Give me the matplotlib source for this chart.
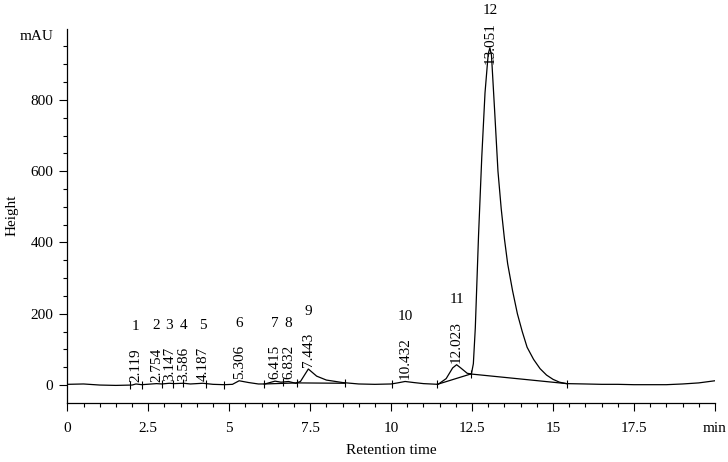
import numpy as np
import matplotlib
matplotlib.use("Agg")
import matplotlib.pyplot as plt

plt.rcParams['font.family'] = ['Liberation Serif', 'DejaVu Serif']

# chromatogram trace (min, mAU)
time = [0.0, 0.5, 1.0, 1.5, 2.0, 2.119, 2.3, 2.754, 2.92, 3.147, 3.3, 3.586,
        3.8, 4.187, 4.5, 4.85, 5.1, 5.306, 5.6, 5.9, 6.1, 6.415, 6.6, 6.832,
        7.05, 7.2, 7.443, 7.7, 8.0, 8.5, 9.0, 9.5, 10.0, 10.2, 10.432, 10.7,
        11.0, 11.45, 11.7, 11.9, 12.023, 12.15, 12.35, 12.48, 12.54, 12.6,
        12.7, 12.8, 12.9, 13.0, 13.051, 13.1, 13.2, 13.3, 13.4, 13.5, 13.6,
        13.75, 13.9, 14.05, 14.2, 14.4, 14.6, 14.8, 15.0, 15.2, 15.42, 16.0,
        16.5, 17.0, 17.5, 18.0, 18.5, 19.0, 19.5, 20.0]
signal = [2, 3, 0, -1, 0, 3, 1, 4, 3, 5, 4, 5,
          3, 5, 2, 1, 2, 12, 7, 3, 3, 11, 8, 10,
          5, 10, 45, 25, 14, 7, 3, 2, 3, 6, 10, 7,
          4, 2, 18, 48, 57, 48, 33, 31, 60, 160,
          420, 640, 820, 930, 946, 925, 765, 600, 495, 410, 340,
          265, 200, 150, 106, 72, 46, 28, 16, 8, 4, 3,
          2, 2, 1, 1, 1, 3, 6, 12]

# peaks: number, retention time, apex height
peak_no = ['1', '2', '3', '4', '5', '6', '7', '8', '9', '10', '11', '12']
peak_rt = [2.119, 2.754, 3.147, 3.586, 4.187, 5.306, 6.415, 6.832, 7.443,
           10.432, 12.023, 13.051]
peak_h = [3, 4, 5, 5, 5, 12, 11, 10, 45, 10, 57, 946]

# integration marks and drawn baselines
marks = [1.95, 2.30, 2.92, 3.26, 3.58, 4.29, 4.85, 6.08, 6.65, 7.09, 8.58,
         10.02, 11.43, 12.46, 15.42]
base_t = [[6.08, 7.09], [7.09, 8.58], [11.43, 12.46], [12.46, 15.42]]
base_y = [[3, 6], [6, 5], [2, 31], [31, 4]]

fig = plt.figure(figsize=(7.28, 4.62), dpi=100)
ax = fig.add_axes([0.0925, 0.128, 0.8895, 0.81])

ax.plot(time, signal, color='black', lw=0.9)
for bt, by in zip(base_t, base_y):
    ax.plot(bt, by, color='black', lw=0.9)
ax.plot(marks, np.interp(marks, time, signal), ls='none', marker='|',
        color='black', ms=6, mew=0.8)

# rotated retention time labels, peak numbers above them
for no, rt, h in zip(peak_no, peak_rt, peak_h):
    big = h > 500
    y = h - 50 if big else h
    t = ax.annotate(f'{rt:.3f}', xy=(rt, y), xytext=(0, 2),
                    textcoords='offset pixels', rotation=90,
                    ha='center', va='bottom', fontsize=11)
    ax.annotate(no, xy=(0.5, 1), xycoords=t, xytext=(0, 5 if big else 15),
                textcoords='offset pixels', ha='center', va='bottom',
                fontsize=11, annotation_clip=False)

ax.set_xlim(0, 20)
ax.set_ylim(-50, 1000)
ax.set_xticks([0, 2.5, 5, 7.5, 10, 12.5, 15, 17.5, 20])
ax.set_xticklabels(['0', '2.5', '5', '7.5', '10', '12.5', '15', '17.5', 'min'])
ax.set_xticks(np.arange(0, 20.01, 0.5), minor=True)
ax.set_yticks([0, 200, 400, 600, 800])
ax.set_yticks(np.arange(0, 951, 50), minor=True)
ax.tick_params(which='major', length=6, width=0.8, labelsize=11, pad=4)
ax.tick_params(which='minor', length=3, width=0.8)
ax.tick_params(axis='x', pad=8)

for s in ['top', 'right']:
    ax.spines[s].set_visible(False)
for s in ['left', 'bottom']:
    ax.spines[s].set_linewidth(0.9)

ax.text(-0.022, 978, 'mAU', transform=ax.get_yaxis_transform(),
        ha='right', va='center', fontsize=11)
ax.set_xlabel('Retention time', fontsize=11, labelpad=6)
ax.set_ylabel('Height', fontsize=11, labelpad=9)

fig.savefig('out.png', dpi=100)
